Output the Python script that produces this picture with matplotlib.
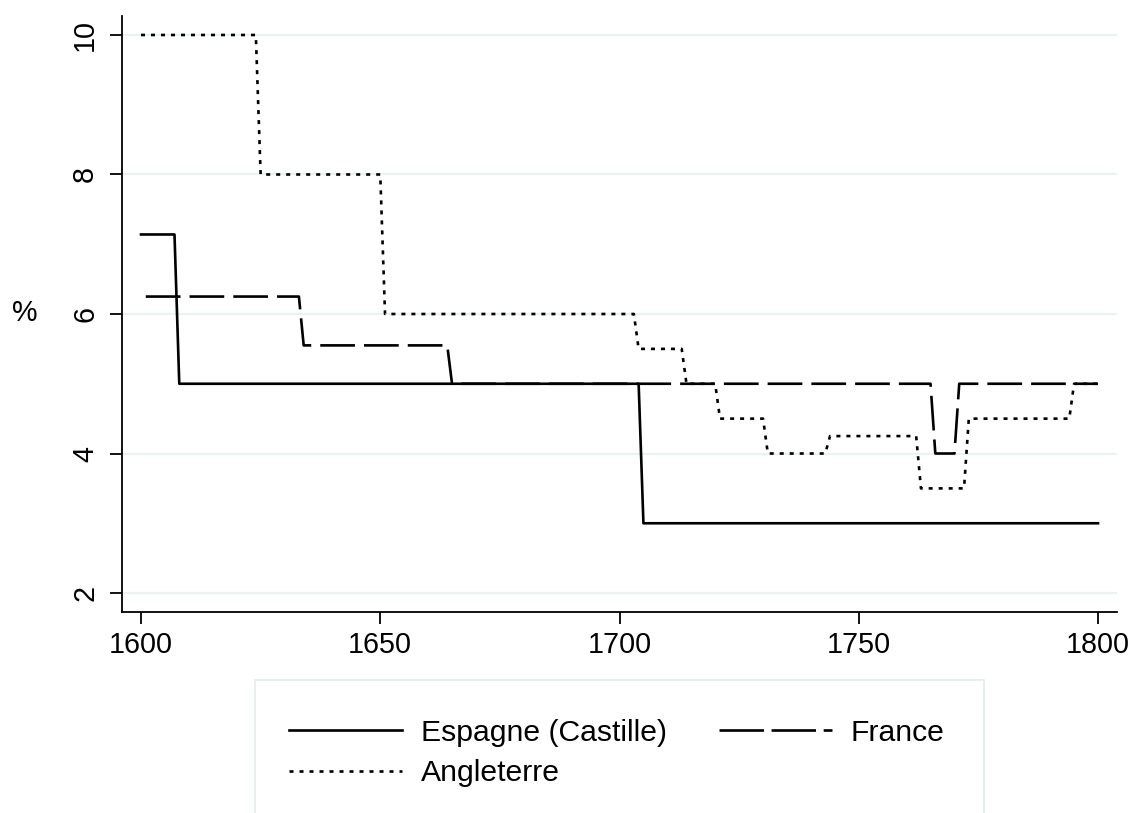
import matplotlib
matplotlib.use("Agg")
import matplotlib.pyplot as plt
from matplotlib.lines import Line2D
from matplotlib.patches import Rectangle

# Data: step-change points (annual series, value holds until next change)
esp_years = [1600, 1607, 1608, 1704, 1705, 1800]
esp_vals = [7.14, 7.14, 5.0, 5.0, 3.0, 3.0]

fra_years = [1601, 1633, 1634, 1664, 1665, 1765, 1766, 1770, 1771, 1800]
fra_vals = [6.25, 6.25, 5.55, 5.55, 5.0, 5.0, 4.0, 4.0, 5.0, 5.0]

ang_years = [1600, 1624, 1625, 1650, 1651, 1703, 1704, 1713, 1714, 1720, 1721,
             1730, 1731, 1743, 1744, 1762, 1763, 1772, 1773, 1794, 1795, 1800]
ang_vals = [10.0, 10.0, 8.0, 8.0, 6.0, 6.0, 5.5, 5.5, 5.0, 5.0, 4.5,
            4.5, 4.0, 4.0, 4.25, 4.25, 3.5, 3.5, 4.5, 4.5, 5.0, 5.0]

labels = ["Espagne (Castille)", "France", "Angleterre"]
xticks = [1600, 1650, 1700, 1750, 1800]
yticks = [2, 4, 6, 8, 10]

plt.rcParams['font.family'] = ['Liberation Sans', 'DejaVu Sans']
plt.rcParams['lines.scale_dashes'] = False

W, H = 1134, 813
fig = plt.figure(figsize=(W / 100, H / 100), dpi=100)
ax = fig.add_axes([122 / W, (H - 612) / H, 995 / W, 596 / H])

lw = 1.9
solid = dict(color='black', lw=lw, linestyle='-')
dashed = dict(color='black', lw=lw, linestyle=(0, (25, 6.5)))
dotted = dict(color='black', lw=lw, linestyle=(0, (2.9, 4.3)))

for y in yticks:
    ax.axhline(y, color='#eaf2f3', lw=1.6, zorder=0)

ax.plot(esp_years, esp_vals, **solid)
ax.plot(fra_years, fra_vals, **dashed)
ax.plot(ang_years, ang_vals, **dotted)

ax.set_xlim(1596.03, 1803.97)
ax.set_ylim(1.728, 10.272)
ax.set_xticks(xticks)
ax.set_yticks(yticks)
ax.tick_params(axis='both', direction='out', length=8.5, width=1.3,
               labelsize=20.7, colors='black')
ax.tick_params(axis='x', pad=5)
ax.tick_params(axis='y', pad=8)
for lab in ax.get_yticklabels():
    lab.set_rotation(90)
    lab.set_va('center')
for s in ['top', 'right']:
    ax.spines[s].set_visible(False)
for s in ['left', 'bottom']:
    ax.spines[s].set_linewidth(1.3)

ax.set_ylabel('%', rotation=0, fontsize=20.7, va='center', ha='center')
ax.yaxis.set_label_coords(-0.0975, 0.502)

# Legend box
fig.patches.append(Rectangle((255 / W, 0 - 5 / H), (984 - 255) / W, (H - 680 + 5) / H,
                             transform=fig.transFigure, facecolor='white',
                             edgecolor='#e6eef0', lw=1.3, zorder=0))
handles = [Line2D([], [], color='black', lw=lw, linestyle='-'),
           Line2D([], [], color='black', lw=lw, linestyle=(0, (2.9, 4.3))),
           Line2D([], [], color='black', lw=lw, linestyle=(0, (32, 5.5)))]
leg = fig.legend(handles, [labels[0], labels[2], labels[1]], ncol=2,
                 loc='upper left', bbox_to_anchor=(289 / W, (H - 719) / H),
                 frameon=False, fontsize=21.7, handlelength=3.75,
                 handletextpad=0.63, columnspacing=1.72, labelspacing=0.4,
                 borderpad=0, borderaxespad=0)

fig.savefig('out.png', dpi=100)
